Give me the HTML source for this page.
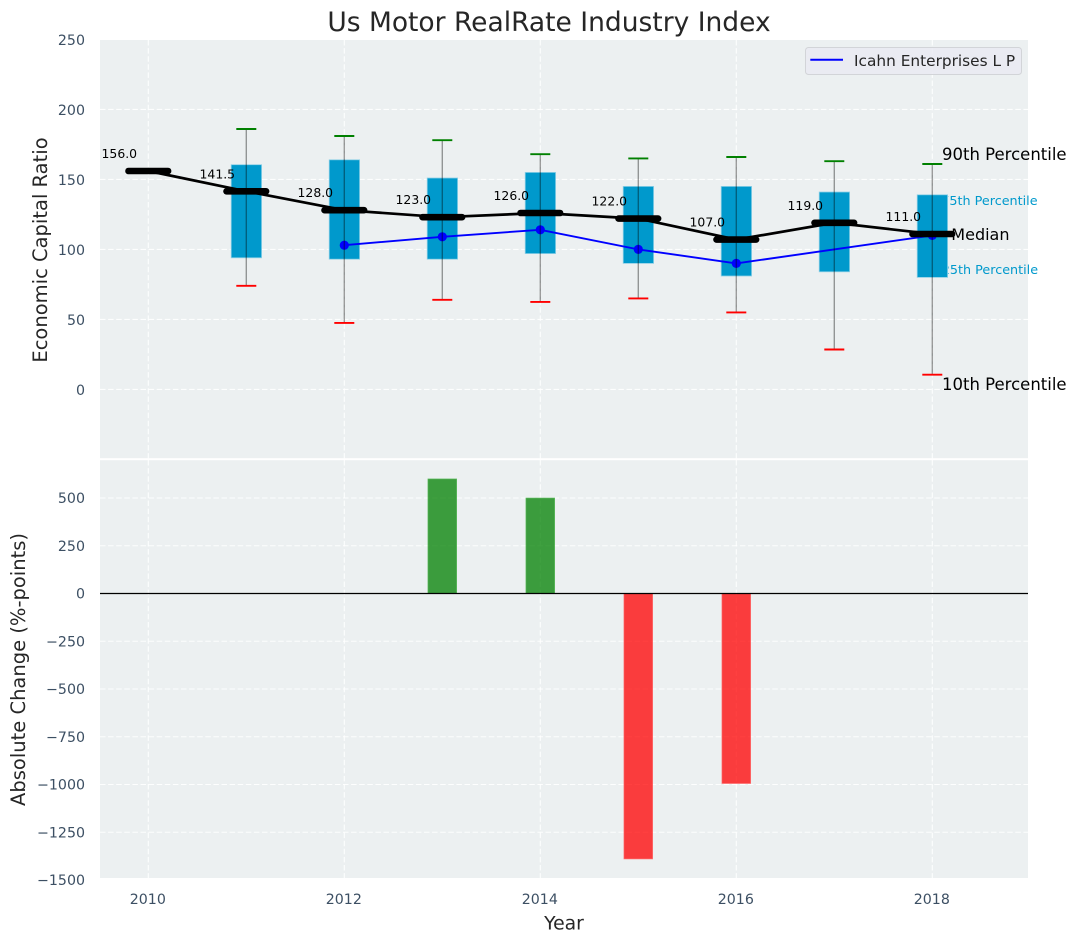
<!DOCTYPE html>
<html>
<head>
<meta charset="utf-8">
<style>
html,body{margin:0;padding:0;background:#fff;}
svg{display:block;font-family:"DejaVu Sans","Liberation Sans",sans-serif;}
</style>
</head>
<body>
<svg id="chart" xmlns="http://www.w3.org/2000/svg" width="1077" height="942" viewBox="0 0 1077 942">
<rect width="1077" height="942" fill="#ffffff"/>
<rect x="100" y="40" width="928" height="419" fill="#ecf0f1"/>
<rect x="100" y="460" width="928" height="418" fill="#ecf0f1"/>
<g id="grid"></g>
<g id="top-marks"></g>
<g id="bottom-marks"></g>
<g id="ticks"></g>
<rect x="100" y="458.2" width="928" height="2" fill="#ffffff"/>
<text x="549" y="31" text-anchor="middle" font-size="26.5" fill="#262626">Us Motor RealRate Industry Index</text>
<text x="47" y="250" text-anchor="middle" font-size="19.5" fill="#262626" transform="rotate(-90 47 250)">Economic Capital Ratio</text>
<text x="25" y="669.5" text-anchor="middle" font-size="19.5" fill="#262626" transform="rotate(-90 25 669.5)">Absolute Change (%-points)</text>
<text x="564" y="929.5" text-anchor="middle" font-size="18.8" fill="#262626">Year</text>
<g>
<rect x="805.5" y="47.5" width="216" height="27" rx="3" fill="#eaeaf2" fill-opacity="0.85" stroke="#d2d4d8" stroke-width="1"/>
<line x1="810.3" y1="59.8" x2="843" y2="59.8" stroke="#0000ff" stroke-width="2"/>
<text x="854" y="66" font-size="15.35" fill="#262626">Icahn Enterprises L P</text>
</g>
</svg>
<script>
const years = [2010, 2011, 2012, 2013, 2014, 2015, 2016, 2017, 2018];
const medianValues = [156, 141.5, 128, 123, 126, 122, 107, 119, 111];
const p90Values = [null, 186, 181, 178, 168, 165, 166, 163, 161];
const p75Values = [null, 160.5, 164, 151, 155, 145, 145, 141, 139];
const p25Values = [null, 94, 93, 93, 97, 90, 81, 84, 80];
const p10Values = [null, 74, 47.5, 64, 62.5, 65, 55, 28.5, 10.5];
const companyValues = [null, null, 103, 109, 114, 100, 90, null, 110];
const changeValues = [0, 0, 0, 600, 500, -1390, -995, 0, 0];
const topTicks = [0, 50, 100, 150, 200, 250];
const bottomTicks = [500, 250, 0, -250, -500, -750, -1000, -1250];
const bottomTickLabelOnly = [-1500];
const xTicks = [2010, 2012, 2014, 2016, 2018];

const NS = 'http://www.w3.org/2000/svg';
const xPos = v => 148.3 + (v - 2010) * 98;
const yTop = v => 389.4 - v * 1.4;
const yBot = v => 593.5 - v * 0.191;
const fmtTick = v => String(v).replace('-', '\u2212');

function make(parent, tag, attrs, text) {
  const el = document.createElementNS(NS, tag);
  for (const k in attrs) el.setAttribute(k, attrs[k]);
  if (text !== undefined) el.textContent = text;
  parent.appendChild(el);
  return el;
}

const grid = document.getElementById('grid');
const topG = document.getElementById('top-marks');
const botG = document.getElementById('bottom-marks');
const tickG = document.getElementById('ticks');
const gridStyle = {stroke: '#ffffff', 'stroke-width': 1.1, 'stroke-dasharray': '5.5 2.6', 'stroke-opacity': 0.9};

xTicks.forEach(t => {
  const a = make(grid, 'line', Object.assign({x1: xPos(t), x2: xPos(t), y1: 40, y2: 459}, gridStyle));
  
  
  const b = make(grid, 'line', Object.assign({x1: xPos(t), x2: xPos(t), y1: 460, y2: 878}, gridStyle));
  
  
  const l = make(tickG, 'text', {x: xPos(t) - 0.5, y: 904, 'text-anchor': 'middle', 'font-size': 14.2, fill: '#3c4f63'}, String(t));
  
  
});
topTicks.forEach(t => {
  if (t < 250) {
    const g = make(grid, 'line', Object.assign({x1: 100, x2: 1028, y1: yTop(t), y2: yTop(t)}, gridStyle));
    
    
  }
  const l = make(tickG, 'text', {x: 85, y: yTop(t) + 5.5, 'text-anchor': 'end', 'font-size': 14.2, fill: '#3c4f63'}, fmtTick(t));
  
  
});
bottomTicks.forEach(t => {
  const g = make(grid, 'line', Object.assign({x1: 100, x2: 1028, y1: yBot(t), y2: yBot(t)}, gridStyle));
  
  
  const l = make(tickG, 'text', {x: 85, y: yBot(t) + 5.2, 'text-anchor': 'end', 'font-size': 14.2, fill: '#3c4f63'}, fmtTick(t));
  
  
});
bottomTickLabelOnly.forEach(t => {
  const l = make(tickG, 'text', {x: 85, y: yBot(t) + 5.2, 'text-anchor': 'end', 'font-size': 14.2, fill: '#3c4f63'}, fmtTick(t));
  
  
});

/* Percentile annotations, drawn below the last box so it overlaps them */
const last = years.length - 1;
const xLast = xPos(years[last]);
const note90 = make(topG, 'text', {x: xLast + 9.7, y: yTop(p90Values[last]) - 4, 'font-size': 16.5, fill: '#000000'}, '90th Percentile');


const note75 = make(topG, 'text', {x: xLast + 9, y: yTop(p75Values[last]) + 10, 'font-size': 12.75, fill: '#0099cc'}, '75th Percentile');


const noteMed = make(topG, 'text', {x: xLast + 19, y: yTop(medianValues[last]) + 6, 'font-size': 16, fill: '#000000'}, 'Median');


const note25 = make(topG, 'text', {x: xLast + 9.5, y: yTop(p25Values[last]) - 3.5, 'font-size': 12.75, fill: '#0099cc'}, '25th Percentile');


const note10 = make(topG, 'text', {x: xLast + 9.7, y: yTop(p10Values[last]) + 15.2, 'font-size': 16.5, fill: '#000000'}, '10th Percentile');



/* Boxes */
years.forEach((yr, i) => {
  if (p75Values[i] === null) return;
  const box = make(topG, 'rect', {x: xPos(yr) - 15.1, y: yTop(p75Values[i]), width: 30.4, height: yTop(p25Values[i]) - yTop(p75Values[i]), fill: '#0099cc', stroke: '#8fd0e6', 'stroke-width': 0.8});
  
  
});

/* Company line */
const companyPts = years.map((yr, i) => [yr, companyValues[i]]).filter(p => p[1] !== null);
const companyLine = make(topG, 'polyline', {points: companyPts.map(p => xPos(p[0]) + ',' + yTop(p[1])).join(' '), fill: 'none', stroke: '#0000ff', 'stroke-width': 1.9});


companyPts.forEach(p => {
  const dot = make(topG, 'circle', {cx: xPos(p[0]), cy: yTop(p[1]), r: 4.6, fill: '#0000ff'});
  
  
});

/* Whiskers and caps */
years.forEach((yr, i) => {
  if (p90Values[i] === null) return;
  const x = xPos(yr);
  const w = make(topG, 'line', {x1: x, x2: x, y1: yTop(p90Values[i]), y2: yTop(p10Values[i]), stroke: '#000000', 'stroke-opacity': 0.38, 'stroke-width': 1.4});
  
  
  const hi = make(topG, 'line', {x1: x - 10, x2: x + 10, y1: yTop(p90Values[i]), y2: yTop(p90Values[i]), stroke: '#008000', 'stroke-width': 1.9});
  
  
  const lo = make(topG, 'line', {x1: x - 10, x2: x + 10, y1: yTop(p10Values[i]), y2: yTop(p10Values[i]), stroke: '#ff0000', 'stroke-width': 1.9});
  
  
});

/* Median line, thick median ticks and value labels */
const medLine = make(topG, 'polyline', {points: years.map((yr, i) => xPos(yr) + ',' + yTop(medianValues[i])).join(' '), fill: 'none', stroke: '#000000', 'stroke-width': 2.7});


years.forEach((yr, i) => {
  const x = xPos(yr), y = yTop(medianValues[i]);
  const m = make(topG, 'line', {x1: x - 19.8, x2: x + 19.8, y1: y, y2: y, stroke: '#000000', 'stroke-width': 6.6, 'stroke-linecap': 'round'});
  
  
  const t = make(topG, 'text', {x: x - 29, y: y - 13, 'text-anchor': 'middle', 'font-size': 12.4, fill: '#000000'}, medianValues[i].toFixed(1));
  
  
});

/* Change bars */
years.forEach((yr, i) => {
  const v = changeValues[i];
  if (v === 0) return;
  const top = Math.min(yBot(v), yBot(0));
  const b = make(botG, 'rect', {x: xPos(yr) - 14.4, y: top, width: 28.8, height: Math.abs(yBot(v) - yBot(0)), fill: v > 0 ? '#008000' : '#ff0000', 'fill-opacity': 0.75, stroke: v > 0 ? '#66c066' : '#ff7a7a', 'stroke-width': 0.6});
  
  
});
const zero = make(botG, 'line', {x1: 100, x2: 1028, y1: yBot(0), y2: yBot(0), stroke: '#000000', 'stroke-width': 1.3});


</script>
</body>
</html>
